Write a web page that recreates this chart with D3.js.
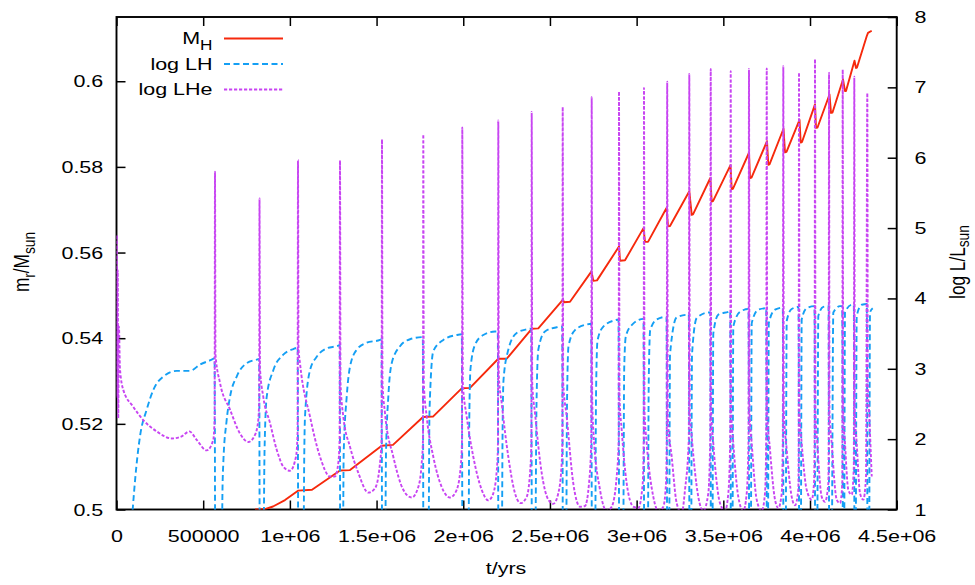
<!DOCTYPE html>
<html><head><meta charset="utf-8">
<script src="https://cdn.jsdelivr.net/npm/d3@7"></script>
<style>
body{margin:0;background:#fff}
svg{display:block}
text{font-family:"Liberation Sans",Arial,Helvetica,sans-serif;fill:#000}
</style>
</head><body>
<svg id="c" width="975" height="585"></svg>
<script>
// ---------- tick values / labels ----------
const xTicks = [0, 0.5e6, 1e6, 1.5e6, 2e6, 2.5e6, 3e6, 3.5e6, 4e6, 4.5e6];
const xTickLabels = ["0", "500000", "1e+06", "1.5e+06", "2e+06", "2.5e+06", "3e+06", "3.5e+06", "4e+06", "4.5e+06"];
const yLeftTicks = [0.5, 0.52, 0.54, 0.56, 0.58, 0.6];
const yLeftLabels = ["0.5", "0.52", "0.54", "0.56", "0.58", "0.6"];
const yRightTicks = [1, 2, 3, 4, 5, 6, 7, 8];
const yRightLabels = ["1", "2", "3", "4", "5", "6", "7", "8"];
const seriesNames = ["M_H", "log LH", "log LHe"];

// ---------- M_H (left axis) : time in Myr, mass in Msun ----------
const mhTimeMyr = [0.7988,0.8565,0.9027,0.9719,1.0468,1.1276,1.2891,1.3468,1.5296,1.5948,1.7678,1.8255,1.9910,2.0389,2.2021,2.2506,2.3948,2.4329,2.5753,2.5811,2.6157,2.7397,2.7501,2.7714,2.8983,2.9041,2.9329,3.0396,3.0483,3.0656,3.1723,3.1810,3.1925,3.3038,3.3177,3.3252,3.4250,3.4330,3.4405,3.5414,3.5484,3.5559,3.6481,3.6539,3.6626,3.7520,3.7594,3.7664,3.8471,3.8558,3.8644,3.9394,3.9463,3.9538,4.0288,4.0346,4.0432,4.1124,4.1211,4.1297,4.1903,4.2018,4.2076,4.2566,4.2653,4.2710,4.3270,4.3345,4.3558];
const mhMass = [0.5000,0.5001,0.5007,0.5022,0.5044,0.5046,0.5091,0.5092,0.5149,0.5151,0.5216,0.5217,0.5283,0.5284,0.5352,0.5352,0.5422,0.5423,0.5490,0.5484,0.5485,0.5556,0.5534,0.5535,0.5614,0.5581,0.5582,0.5657,0.5625,0.5625,0.5704,0.5661,0.5662,0.5743,0.5688,0.5689,0.5774,0.5719,0.5720,0.5804,0.5748,0.5749,0.5833,0.5774,0.5775,0.5860,0.5805,0.5806,0.5889,0.5834,0.5835,0.5910,0.5857,0.5858,0.5946,0.5891,0.5892,0.5969,0.5926,0.5927,0.6004,0.5977,0.5977,0.6048,0.6031,0.6032,0.6105,0.6113,0.6118];

// ---------- log LH (right axis) ----------
const lhTimeMyr = [0.0548,0.0934,0.1125,0.1355,0.1742,0.2123,0.2699,0.3472,0.4239,0.4816,0.5491,0.5658,
0.5699,0.6056,0.6114,0.6160,0.6345,0.6546,0.6933,0.7510,0.8086,0.8231,
0.8265,0.8461,0.8536,0.8663,0.9044,0.9621,1.0197,1.0451,
1.0486,1.0774,1.0826,1.0872,1.1161,1.1547,1.2124,1.2793,1.2874,
1.2908,1.3047,1.3104,1.3277,1.3468,1.3854,1.4431,1.5198,1.5285,
1.5325,1.5487,1.5544,1.5677,1.5873,1.6352,1.6929,1.7667,
1.7707,1.7984,1.8053,1.8272,1.8849,1.9622,1.9916,
1.9957,2.0291,2.0349,2.0418,2.0677,2.1156,2.1831,2.1992,
2.2033,2.2217,2.2264,2.2322,2.2598,2.3083,2.3660,2.3919,
2.3965,2.4138,2.4225,2.4329,2.4715,2.5390,2.5707,
2.5753,2.5926,2.5984,2.6070,2.6445,2.7120,2.7380,
2.7426,2.7599,2.7657,2.7743,2.8078,2.8752,2.8954,
2.9000,2.9214,2.9283,2.9375,2.9716,3.0396,
3.0443,3.0639,3.0697,3.0783,3.1158,3.1723,
3.1769,3.1867,3.1925,3.2311,3.3009,
3.3055,3.3136,3.3194,3.3465,3.4134,3.4249,
3.4289,3.4364,3.4422,3.4711,3.5288,3.5397,
3.5443,3.5518,3.5576,3.5963,3.6453,
3.6499,3.6580,3.6638,3.7018,3.7474,
3.7520,3.7566,3.7624,3.7981,3.8431,
3.8477,3.8587,3.8656,3.8944,3.9336,
3.9382,3.9463,3.9521,3.9809,4.0259,
4.0305,4.0404,4.0479,4.0767,4.1067,
4.1113,4.1240,4.1344,4.1730,4.1857,
4.1903,4.1961,4.2018,4.2405,4.2526,
4.2573,4.2624,4.2694,4.2982,4.3276,
4.3322,4.3403,4.3461,4.3616];
const lhLog = [-0.5,1.0,1.56,2.04,2.42,2.70,2.89,2.97,2.97,3.06,3.13,3.15,
0,0,1.3,1.66,2.25,2.60,2.89,3.08,3.13,3.14,
0,0,1.8,2.60,2.98,3.20,3.28,3.30,
0,0,1.7,2.32,2.98,3.17,3.29,3.33,3.34,
0,0,1.8,2.60,3.03,3.27,3.37,3.41,3.42,
0,0,1.8,2.60,3.08,3.32,3.42,3.45,
0,0,2.4,3.25,3.41,3.48,3.49,
0,0,2.3,3.0,3.34,3.48,3.53,3.53,
0,0,2.0,2.84,3.27,3.51,3.56,3.57,
0,0,2.5,3.27,3.53,3.59,3.60,
0,0,2.5,3.32,3.55,3.63,3.64,
0,0,2.6,3.40,3.60,3.69,3.70,
0,0,3.0,3.46,3.62,3.71,
0,0,2.8,3.55,3.70,3.74,
0,0,3.2,3.73,3.77,
0,0,3.2,3.72,3.80,3.80,
0,0,3.5,3.77,3.81,3.82,
0,0,3.6,3.81,3.85,
0,0,3.65,3.84,3.86,
0,0,3.65,3.84,3.87,
0,0,3.68,3.85,3.88,
0,0,3.70,3.86,3.89,
0,0,3.75,3.88,3.89,
0,0,3.80,3.89,3.89,
0,0,3.80,3.91,3.91,
0,0,3.75,3.91,3.92,
0,0,3.80,3.86];

// ---------- log LHe (right axis) ----------
const lheTimeMyr = [0.000,0.002,0.004,0.007,0.010,0.014,0.020,
0.0392,0.0969,0.1546,0.2319,0.3184,0.3761,0.4199,0.4626,0.5203,0.5583,0.5658,
0.5681,0.5710,0.5970,0.6546,0.7123,0.7602,0.7988,0.8178,0.8231,
0.8248,0.8277,0.8467,0.8854,0.9240,0.9621,1.0007,1.0353,1.0445,
1.0468,1.0497,1.0584,1.1161,1.1738,1.2315,1.2603,1.2793,1.2868,
1.2891,1.2920,1.3082,1.3468,1.3947,1.4523,1.4910,1.5198,1.5291,
1.5313,1.5342,1.5486,1.5965,1.6542,1.7026,1.7407,1.7603,1.7678,
1.7695,1.7724,1.7892,1.8272,1.8757,1.9236,1.9622,1.9870,1.9928,
1.9945,1.9974,2.0199,2.0579,2.1064,2.1445,2.1733,2.1964,2.2004,
2.2021,2.2050,2.2218,2.2598,2.2985,2.3313,2.3660,2.3890,2.3930,
2.3948,2.3977,2.4138,2.4524,2.4905,2.5194,2.5482,2.5678,2.5718,
2.5736,2.5765,2.5967,2.6347,2.6734,2.7022,2.7253,2.7385,
2.7408,2.7437,2.7501,2.7887,2.8274,2.8562,2.8851,2.8966,
2.8983,2.9012,2.9139,2.9427,2.9808,3.0096,3.0350,3.0408,
3.0425,3.0454,3.0581,3.0962,3.1250,3.1538,3.1694,3.1734,
3.1763,3.1798,3.2023,3.2311,3.2600,3.2790,3.3009,
3.3038,3.3067,3.3177,3.3557,3.3846,3.4134,3.4244,
3.4273,3.4302,3.4423,3.4809,3.5097,3.5288,3.5397,
3.5426,3.5455,3.5576,3.5864,3.6153,3.6349,3.6453,
3.6481,3.6510,3.6637,3.6925,3.7214,3.7404,3.7474,
3.7503,3.7532,3.7693,3.7981,3.8172,3.8368,3.8431,
3.8460,3.8489,3.8656,3.8944,3.9134,3.9325,3.9348,
3.9365,3.9394,3.9521,3.9809,4.0098,4.0230,4.0265,
4.0288,4.0317,4.0421,4.0675,4.0865,4.1056,4.1079,
4.1096,4.1124,4.1251,4.1540,4.1730,4.1863,
4.1886,4.1915,4.2018,4.2209,4.2405,4.2526,
4.2554,4.2583,4.2694,4.2885,4.3075,4.3231,
4.3305,4.3334,4.3420,4.3559];
const lheLog = [3.0,4.9,2.6,4.4,2.3,3.6,3.0,
2.70,2.46,2.27,2.11,2.01,2.04,2.11,1.99,1.84,1.99,2.3,
5.80,3.2,2.80,2.42,2.08,1.96,2.06,2.27,2.6,
5.42,3.0,2.60,2.23,1.85,1.61,1.55,1.75,2.1,
5.97,3.3,3.08,2.32,1.75,1.47,1.47,1.66,2.0,
5.96,2.8,2.32,1.89,1.52,1.24,1.30,1.66,2.0,
6.26,2.8,2.37,1.75,1.28,1.17,1.32,1.66,2.0,
6.33,2.8,2.32,1.75,1.32,1.17,1.28,1.66,2.0,
6.43,2.8,2.32,1.75,1.28,1.13,1.23,1.66,2.0,
6.53,2.9,2.51,1.75,1.23,1.09,1.18,1.66,2.0,
6.65,2.8,2.37,1.52,1.14,1.08,1.23,1.66,2.0,
6.72,2.8,2.32,1.37,1.04,1.05,1.37,2.0,
6.86,2.6,2.13,1.28,0.98,1.04,1.47,2.0,
6.94,2.6,2.13,1.37,1.04,1.02,1.37,2.0,
6.99,2.4,1.94,1.18,0.98,1.04,1.37,2.0,
7.08,2.3,1.75,1.09,0.95,1.28,2.0,
7.19,2.4,2.04,1.18,0.98,1.23,2.0,
7.26,2.4,1.94,1.09,0.98,1.23,2.0,
7.23,2.4,1.94,1.18,0.98,1.23,2.0,
7.26,2.4,1.94,1.14,0.98,1.23,2.0,
7.27,2.4,1.85,1.14,1.02,1.23,2.0,
7.30,2.4,1.85,1.18,1.06,1.28,2.0,
7.21,2.4,1.94,1.28,1.14,1.37,2.0,
7.40,2.4,1.94,1.18,1.11,1.37,2.0,
7.21,2.4,1.94,1.14,1.09,1.37,
7.25,2.4,1.94,1.28,1.21,1.6,
7.15,2.4,1.94,1.23,1.14,1.47,
6.92,2.8,2.32,1.47];

// ---------- build ----------
const MYR = 1e6;
const zipSeries = (ts, vs) => d3.range(Math.min(ts.length, vs.length)).map(i => [ts[i] * MYR, vs[i]]);
const mhData = zipSeries(mhTimeMyr, mhMass);
const lhData = zipSeries(lhTimeMyr, lhLog);
const lheData = zipSeries(lheTimeMyr, lheLog);

const SX = 1.25;      // horizontal stretch of glyphs as in the reference
const FS = 17.2;
const FONT = '"Liberation Sans", Arial, Helvetica, sans-serif';
const C_RED = "#f6290c", C_BLUE = "#149ff4", C_PURP = "#c845f2";

const L = 116.5, R = 896.7, T = 17, B = 509.5;
const x = d3.scaleLinear().domain([0, 4.5e6]).range([L, R]);
const yL = d3.scaleLinear().domain([0.5, 0.615]).range([B, T]);
const yR = d3.scaleLinear().domain([1, 8]).range([B, T]);

const svg = d3.select("#c");
svg.append("defs").append("clipPath").attr("id", "clip")
  .append("rect").attr("x", L).attr("y", T).attr("width", R - L).attr("height", B - T);

// axes
function styleAxis(g) {
  g.select(".domain").remove();
  g.attr("font-size", FS).attr("font-family", FONT);
  g.selectAll(".tick line").attr("stroke", "#000").attr("stroke-width", 1.5);
  g.selectAll(".tick text").attr("fill", "#000").attr("transform", `scale(${SX},1)`);
}
svg.append("g").attr("transform", `translate(0,${B})`)
  .call(d3.axisBottom(x).tickValues(xTicks).tickFormat((d, i) => xTickLabels[i])
    .tickSizeInner(-9).tickSizeOuter(0).tickPadding(20))
  .call(styleAxis);
svg.append("g").attr("transform", `translate(0,${T})`)
  .call(d3.axisTop(x).tickValues(xTicks).tickFormat("")
    .tickSizeInner(-9).tickSizeOuter(0))
  .call(styleAxis);
svg.append("g").attr("transform", `translate(${L},0)`)
  .call(d3.axisLeft(yL).tickValues(yLeftTicks).tickFormat((d, i) => yLeftLabels[i])
    .tickSizeInner(-9).tickSizeOuter(0).tickPadding(10.6))
  .call(styleAxis);
svg.append("g").attr("transform", `translate(${R},0)`)
  .call(d3.axisRight(yR).tickValues(yRightTicks).tickFormat((d, i) => yRightLabels[i])
    .tickSizeInner(-9).tickSizeOuter(0).tickPadding(14.2))
  .call(styleAxis);

svg.append("rect").attr("x", L).attr("y", T).attr("width", R - L).attr("height", B - T)
  .attr("fill", "none").attr("stroke", "#000").attr("stroke-width", 1.9);

// curves
const plot = svg.append("g").attr("clip-path", "url(#clip)");
const lineMH = d3.line().x(d => x(d[0])).y(d => yL(d[1]));
const lineR = d3.line().x(d => x(d[0])).y(d => yR(d[1])).curve(d3.curveMonotoneX);

plot.append("path").datum(mhData).attr("d", lineMH)
  .attr("fill", "none").attr("stroke", C_RED).attr("stroke-width", 1.9).attr("stroke-linejoin", "round");
plot.append("path").datum(lhData).attr("d", lineR)
  .attr("fill", "none").attr("stroke", C_BLUE).attr("stroke-width", 1.9).attr("stroke-dasharray", "6,3.5");
plot.append("path").datum(lheData).attr("d", lineR)
  .attr("fill", "none").attr("stroke", C_PURP).attr("stroke-width", 1.9).attr("stroke-dasharray", "3.2,1.8");

// legend
const legY = [38.5, 64, 89.5];
const legStyle = [
  {c: C_RED, dash: null},
  {c: C_BLUE, dash: "6,3.5"},
  {c: C_PURP, dash: "3.2,1.8"}
];
const leg = svg.append("g").attr("font-family", FONT).attr("font-size", FS);
legY.forEach((yy, i) => {
  leg.append("line").attr("x1", 224).attr("x2", 283).attr("y1", yy).attr("y2", yy)
    .attr("stroke", legStyle[i].c).attr("stroke-width", 1.9)
    .attr("stroke-dasharray", legStyle[i].dash);
  const t = leg.append("text").attr("text-anchor", "end")
    .attr("transform", `translate(212.5,${yy + 5.5}) scale(${SX},1)`);
  if (i === 0) {
    t.append("tspan").text("M");
    t.append("tspan").attr("font-size", FS * 0.8).attr("dy", 5.5).text("H");
  } else {
    t.text(seriesNames[i]);
  }
});

// axis titles
svg.append("text").attr("font-family", FONT).attr("font-size", FS)
  .attr("text-anchor", "middle").attr("transform", `translate(506,574) scale(${SX},1)`).text("t/yrs");

const yl = svg.append("text").attr("font-family", FONT).attr("font-size", FS)
  .attr("text-anchor", "middle").attr("transform", `translate(29,262) scale(${SX},1) rotate(-90)`);
yl.append("tspan").text("m");
yl.append("tspan").attr("font-size", FS * 0.8).attr("dy", 4.5).text("r");
yl.append("tspan").attr("dy", -4.5).text("/M");
yl.append("tspan").attr("font-size", FS * 0.8).attr("dy", 4.5).text("sun");

const yr = svg.append("text").attr("font-family", FONT).attr("font-size", FS)
  .attr("text-anchor", "middle").attr("transform", `translate(964.5,262) scale(${SX},1) rotate(-90)`);
yr.append("tspan").text("log L/L");
yr.append("tspan").attr("font-size", FS * 0.8).attr("dy", 3.6).text("sun");
</script>
</body></html>
